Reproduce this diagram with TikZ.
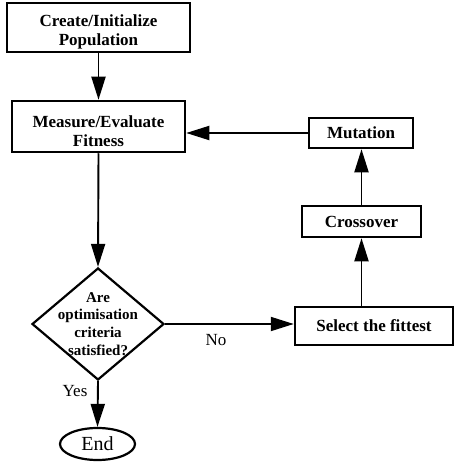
\documentclass[tikz,border=0pt]{standalone}
\usepackage{fontspec}
\setmainfont{Liberation Serif}
\usetikzlibrary{shapes.geometric,arrows.meta}
\begin{document}
\begin{tikzpicture}[x=1pt,y=-1pt,
  box/.style={draw,line width=2.5pt,rectangle,inner sep=0pt},
  lbl/.style={font=\fontsize{17}{19}\selectfont\bfseries,align=center,inner sep=0pt},
  dlbl/.style={font=\fontsize{15}{17.8}\selectfont\bfseries,align=center,inner sep=0pt},
  conn/.style={line width=1.9pt,-{Triangle[length=23pt,width=14pt]}},
  plainlbl/.style={font=\fontsize{17}{19}\selectfont,inner sep=0pt}]
\useasboundingbox (0,0) rectangle (454,468);
% boxes
\node[box,minimum width=183pt,minimum height=49pt] (create) at (98.5,27.5) {};
\node[lbl] (createT) at (98.5,32) {Create/Initialize\\Population};
\node[box,minimum width=173pt,minimum height=51pt] (meas) at (98.5,126.5) {};
\node[lbl] (measT) at (98.5,131) {Measure/Evaluate\\Fitness};
\node[box,minimum width=104pt,minimum height=30pt,lbl] (mut) at (361,133) {\raisebox{-3pt}{Mutation}};
\node[box,minimum width=119pt,minimum height=31pt,lbl] (cross) at (361.5,221.5) {Crossover};
\node[box,minimum width=158pt,minimum height=38pt,lbl] (sel) at (374,326) {Select the fittest};
\node[diamond,draw,line width=2.2pt,minimum width=132pt,minimum height=112pt,inner sep=0pt] (dia) at (98,324) {};
\node[dlbl] (diaT) at (98,324) {Are\\optimisation\\criteria\\satisfied?};
\node[ellipse,draw,line width=2.2pt,minimum width=75pt,minimum height=32pt,inner sep=0pt,font=\fontsize{20}{22}\selectfont] (end) at (97.5,444) {End};
% labels
\node[plainlbl] (yes) at (75,391) {Yes};
\node[plainlbl] (no) at (216,340) {No};
% connectors
\draw[conn] (create.south) -- (meas.north);
\draw[conn] (meas.south) -- (dia.north);
\draw[conn] (dia.south) -- (end.north);
\draw[conn] (dia.east) -- (dia.east -| sel.west);
\draw[conn] (cross.south |- sel.north) -- (cross.south);
\draw[conn] (cross.north) -- (cross.north |- mut.south);
\draw[conn] (mut.west) -- (mut.west -| meas.east);
\end{tikzpicture}
\end{document}
